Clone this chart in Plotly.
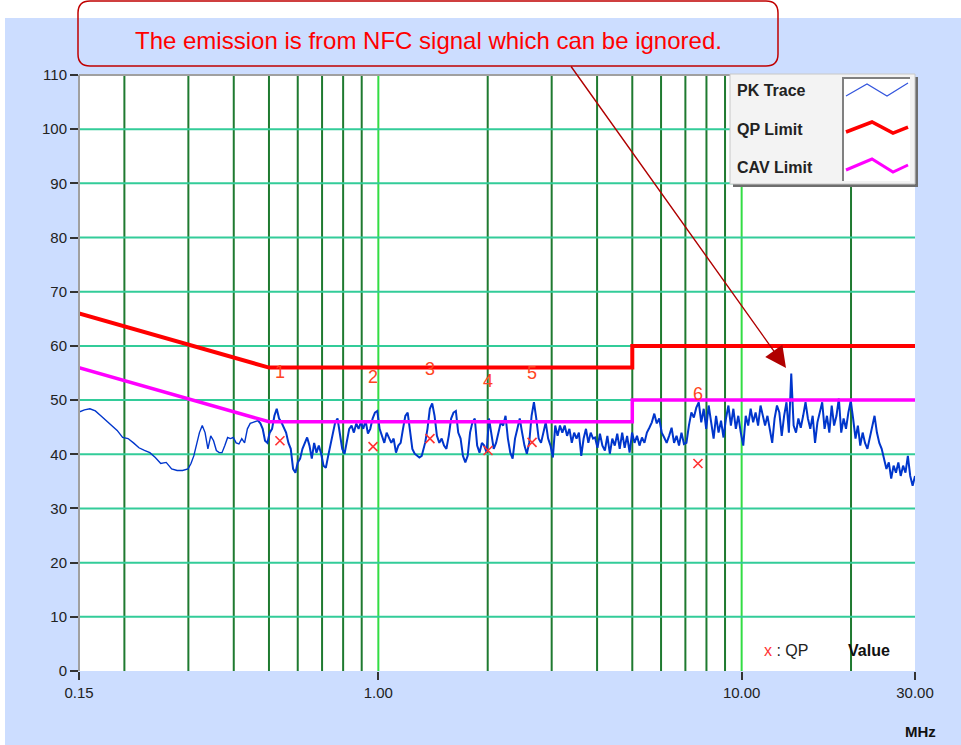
import numpy as np
import plotly.graph_objects as go

# ---------------- data ----------------
# PK trace readings (dBuV), grouped by sweep segment (start MHz, stop MHz, levels)
pk_seg_a = [47.8, 48.2, 48.4, 48.0, 47.1, 46.2, 45.3, 44.4, 43.1, 42.9, 42.1, 41.2, 40.7,
            40.3, 39.4, 38.3, 38.5, 37.3, 37.0, 37.0, 37.3]
pk_seg_b = [38.3, 39.7, 41.6, 44.0, 45.3, 44.0, 41.0, 43.4, 42.5, 40.7, 40.3, 40.3, 41.6,
            43.1, 42.9, 43.1, 42.1, 41.9, 42.9, 42.1, 44.7, 45.7, 45.9]
pk_seg_c = [46.2, 45.7, 44.7, 42.5, 42.1, 44.0, 44.7, 47.1, 48.4, 46.6, 45.9, 44.9, 44.0,
            42.1, 41.0, 37.3, 36.6, 38.5, 39.2, 41.0, 42.1, 43.1, 41.6, 39.2, 42.1, 40.3,
            41.6, 40.1, 37.9, 37.5, 39.7, 41.6, 44.0, 45.9, 46.6, 43.4, 41.0, 40.1, 42.1,
            44.7, 45.3, 44.0, 45.7, 44.7, 45.9, 44.7, 46.2, 43.8, 44.7, 46.6, 47.7, 48.0,
            44.7, 43.4, 42.1, 44.0, 42.9, 42.1, 42.9, 40.3, 41.6, 42.1, 44.7, 47.1, 47.7,
            44.0, 41.0, 40.1, 39.7, 39.4, 39.7, 41.2]
pk_seg_d = [42.1, 44.7, 48.4, 49.4, 47.1, 43.4, 42.1, 42.9, 41.6, 41.0, 43.4, 46.6, 47.7,
            48.0, 44.0, 42.9, 39.7, 38.5, 39.7, 44.0, 45.9, 46.6, 41.6, 40.3, 42.1, 41.6,
            40.3, 46.6, 44.0, 41.0, 42.1, 44.0, 45.9, 45.3, 47.1, 42.9, 40.3, 39.2, 42.9,
            44.7, 46.6, 44.0, 41.6, 40.1, 42.1, 47.1, 49.6, 46.6, 42.9, 42.1, 44.0, 45.9,
            42.9, 41.6, 39.4, 45.3, 43.4, 45.3, 44.0, 45.3, 43.4, 44.7, 42.1, 44.0, 42.9,
            44.0, 39.7, 42.9, 44.7, 42.1, 44.0, 42.9]
pk_seg_e = [43.1, 41.2, 43.8, 41.6, 40.7, 43.4, 40.1, 42.9, 41.6, 43.8, 41.0, 44.0, 41.2,
            43.4, 40.3, 44.0, 42.1, 43.4, 41.6, 43.1, 42.1, 44.0, 44.9, 45.9, 47.5, 45.7,
            46.6, 44.0, 43.1, 42.1, 43.4, 44.9, 42.1, 43.4, 41.6, 44.0, 41.9, 42.1, 45.3,
            47.7, 46.8, 48.6, 49.6, 45.9, 48.4, 44.7, 49.0, 45.9, 42.9, 47.1, 44.0, 46.2,
            43.1, 46.6, 49.0, 45.3, 48.4, 44.7, 47.1, 44.0, 41.6, 47.1, 45.3, 48.4, 45.9,
            47.7, 45.3, 49.0, 46.6]
pk_seg_f = [45.3, 47.1, 44.9, 42.1, 46.6, 49.0, 47.7, 43.4, 47.1, 49.6, 44.0, 54.9, 45.3,
            44.0, 46.6, 44.9, 47.1, 49.6, 46.6, 44.7, 47.1, 42.1, 45.9, 48.0, 49.6, 44.7,
            47.1, 44.0, 49.0, 45.3, 47.1, 50.3, 44.0, 46.6, 44.7, 47.7, 49.9, 46.6, 42.9,
            45.3, 41.6, 44.0, 42.1, 41.0, 42.9, 44.7, 47.1, 44.0, 42.1, 41.0, 39.2, 37.3,
            38.5, 35.5, 37.9, 36.6, 38.5, 36.0, 37.9, 36.6, 39.7, 36.0, 34.2, 36.0]
pk_segments = [
    (0.150, 0.2993, pk_seg_a),
    (0.305, 0.452, pk_seg_b),
    (0.4665, 1.336, pk_seg_c),
    (1.345, 3.90, pk_seg_d),
    (3.948, 11.45, pk_seg_e),
    (11.60, 30.0, pk_seg_f),
]

# limit lines
limit_freq = [0.15, 0.5, 5.0, 5.0, 30.0]
qp_limit = [66, 56, 56, 60, 60]
cav_limit = [56, 46, 46, 50, 50]

# QP measured points
qp_freq = [0.536, 0.967, 1.387, 2.004, 2.649, 7.58]
qp_value = [42.5, 41.4, 42.9, 40.7, 42.2, 38.3]
qp_labels = ["1", "2", "3", "4", "5", "6"]

# axis ticks / grid
x_tickvals = [0.15, 1.0, 10.0, 30.0]
x_ticktext = ["0.15", "1.00", "10.00", "30.00"]
grid_minor = [0.2, 0.3, 0.4, 0.5, 0.6, 0.7, 0.8, 0.9, 2, 3, 4, 5, 6, 7, 8, 9, 20]
grid_major = [1, 10]
grid_h = [10, 20, 30, 40, 50, 60, 70, 80, 90, 100]
y_min, y_max = 0, 110

# ---------------- build ----------------
pk_freq = np.concatenate([np.geomspace(a, b, len(v)) for a, b, v in pk_segments])
pk_level = np.concatenate([np.array(v, dtype=float) for _, _, v in pk_segments])
n_smooth = len(pk_seg_a) + len(pk_seg_b)  # smooth low-frequency part drawn thinner

FONT = "Arial, Liberation Sans, sans-serif"
L, R, T, B = 79, 46, 75, 74
W, H = 961, 745
PW, PH = W - L - R, H - T - B


def px(x):
    return (x - L) / PW


def py(y):
    return (H - B - y) / PH


def P(x, y):
    return f"{px(x):.5f},{py(y):.5f}"


def vlines(freqs):
    xs, ys = [], []
    for f in freqs:
        xs += [f, f, None]
        ys += [y_min, y_max, None]
    return xs, ys


def hlines(levels):
    xs, ys = [], []
    for v in levels:
        xs += [x_tickvals[0], x_tickvals[-1], None]
        ys += [v, v, None]
    return xs, ys


fig = go.Figure()

gx, gy = vlines(grid_minor)
fig.add_trace(go.Scatter(x=gx, y=gy, mode="lines", line=dict(color="#1F7A30", width=2),
                         hoverinfo="skip", showlegend=False))
gx, gy = vlines(grid_major)
fig.add_trace(go.Scatter(x=gx, y=gy, mode="lines", line=dict(color="#33DD44", width=2),
                         hoverinfo="skip", showlegend=False))
gx, gy = hlines(grid_h)
fig.add_trace(go.Scatter(x=gx, y=gy, mode="lines", line=dict(color="#33CC99", width=2),
                         hoverinfo="skip", showlegend=False))

fig.add_trace(go.Scatter(x=pk_freq[:n_smooth + 1], y=pk_level[:n_smooth + 1], mode="lines",
                         name="PK Trace", legendgroup="pk",
                         line=dict(color="#0036CC", width=1.4)))
fig.add_trace(go.Scatter(x=pk_freq[n_smooth:], y=pk_level[n_smooth:], mode="lines",
                         name="PK Trace", legendgroup="pk", showlegend=False,
                         line=dict(color="#0036CC", width=2)))
fig.add_trace(go.Scatter(x=limit_freq, y=qp_limit, mode="lines", name="QP Limit",
                         line=dict(color="#FF0000", width=4)))
fig.add_trace(go.Scatter(x=limit_freq, y=cav_limit, mode="lines", name="CAV Limit",
                         line=dict(color="#FF00FF", width=3.5)))
fig.add_trace(go.Scatter(x=qp_freq, y=qp_value, mode="markers", name="QP",
                         marker=dict(symbol="x-thin", size=9,
                                     line=dict(color="#FF3333", width=1.6))))
fig.add_trace(go.Scatter(x=qp_freq, y=[v + 12.5 for v in qp_value], mode="text",
                         text=qp_labels, textposition="middle center",
                         textfont=dict(family=FONT, size=18, color="#FF4422"),
                         hoverinfo="skip", showlegend=False))

shapes = []
# white strips outside the light-blue panel
shapes.append(dict(type="rect", xref="paper", yref="paper", x0=px(0), x1=px(W), y0=py(18), y1=py(0),
                   fillcolor="white", line=dict(width=0), layer="below"))
shapes.append(dict(type="rect", xref="paper", yref="paper", x0=px(0), x1=px(5), y0=py(H), y1=py(0),
                   fillcolor="white", line=dict(width=0), layer="below"))
# frame lines (left and top)
shapes.append(dict(type="line", xref="paper", yref="paper", x0=0, x1=0, y0=0, y1=1,
                   line=dict(color="#A0A0A0", width=2)))
shapes.append(dict(type="line", xref="paper", yref="paper", x0=0, x1=1, y0=1, y1=1,
                   line=dict(color="#A0A0A0", width=2)))

# rounded annotation box
bx0, bx1, by0, by1, r = 78, 778, 1, 66, 12
path = (f"M {P(bx0 + r, by0)} L {P(bx1 - r, by0)} Q {P(bx1, by0)} {P(bx1, by0 + r)} "
        f"L {P(bx1, by1 - r)} Q {P(bx1, by1)} {P(bx1 - r, by1)} "
        f"L {P(bx0 + r, by1)} Q {P(bx0, by1)} {P(bx0, by1 - r)} "
        f"L {P(bx0, by0 + r)} Q {P(bx0, by0)} {P(bx0 + r, by0)} Z")
shapes.append(dict(type="path", xref="paper", yref="paper", path=path,
                   line=dict(color="#C00000", width=1.5), fillcolor="rgba(0,0,0,0)"))

# custom legend
shapes.append(dict(type="rect", xref="paper", yref="paper", x0=px(733), x1=px(918), y0=py(187), y1=py(77),
                   fillcolor="#6E6E6E", line=dict(width=0)))
shapes.append(dict(type="rect", xref="paper", yref="paper", x0=px(730), x1=px(915), y0=py(184), y1=py(74),
                   fillcolor="#F3F3F3", line=dict(color="#C8C8C8", width=1)))
shapes.append(dict(type="rect", xref="paper", yref="paper", x0=px(842), x1=px(910), y0=py(181), y1=py(77),
                   fillcolor="white", line=dict(width=0)))
shapes.append(dict(type="path", xref="paper", yref="paper",
                   path=f"M {P(843, 181)} L {P(843, 78)} L {P(910, 78)}",
                   line=dict(color="#808080", width=2)))
zig = [
    ("#3355DD", 1.2, [(846, 96), (867, 84), (887, 96), (908, 83)]),
    ("#FF0000", 3.5, [(846, 132), (872, 122), (893, 133), (908, 127)]),
    ("#FF00FF", 3.0, [(846, 170), (872, 159), (893, 172), (908, 165)]),
]
for col, wd, pts in zig:
    pth = "M " + " L ".join(P(x, y) for x, y in pts)
    shapes.append(dict(type="path", xref="paper", yref="paper", path=pth,
                       line=dict(color=col, width=wd)))

annotations = [
    dict(xref="paper", yref="paper", x=px(428), y=py(40), showarrow=False,
         text="The emission is from NFC signal which can be ignored.",
         font=dict(family=FONT, size=24, color="#FF0000"), xanchor="center", yanchor="middle"),
    dict(xref="paper", yref="paper", x=px(786), y=py(368), ax=-216, ay=-303, text="",
         showarrow=True, arrowhead=2, arrowsize=3, arrowwidth=1.4, arrowcolor="#B00000",
         standoff=0),
    dict(xref="paper", yref="paper", x=px(735), y=py(91), text="<b>PK Trace</b>", showarrow=False,
         xanchor="left", yanchor="middle", font=dict(family=FONT, size=16, color="#222222")),
    dict(xref="paper", yref="paper", x=px(735), y=py(129), text="<b>QP Limit</b>", showarrow=False,
         xanchor="left", yanchor="middle", font=dict(family=FONT, size=16, color="#222222")),
    dict(xref="paper", yref="paper", x=px(735), y=py(167), text="<b>CAV Limit</b>", showarrow=False,
         xanchor="left", yanchor="middle", font=dict(family=FONT, size=16, color="#222222")),
    dict(xref="paper", yref="paper", x=px(762), y=py(650),
         text='<span style="color:#FF3333">x</span> : QP', showarrow=False,
         xanchor="left", yanchor="middle", font=dict(family=FONT, size=16, color="#222222")),
    dict(xref="paper", yref="paper", x=px(846), y=py(650), text="<b>Value</b>", showarrow=False,
         xanchor="left", yanchor="middle", font=dict(family=FONT, size=16, color="#111111")),
    dict(xref="paper", yref="paper", x=px(920), y=py(731), text="<b>MHz</b>", showarrow=False,
         xanchor="center", yanchor="middle", font=dict(family=FONT, size=15, color="#111111")),
]

fig.update_layout(
    width=W, height=H,
    margin=dict(l=L, r=R, t=T, b=B, pad=0),
    paper_bgcolor="#CCDDFF",
    plot_bgcolor="white",
    showlegend=False,
    font=dict(family=FONT, size=15, color="#222222"),
    shapes=shapes,
    annotations=annotations,
    xaxis=dict(type="log", range=[np.log10(x_tickvals[0]), np.log10(x_tickvals[-1])],
               tickmode="array", tickvals=x_tickvals, ticktext=x_ticktext,
               ticks="outside", ticklen=8, tickwidth=2, tickcolor="#333333",
               showgrid=False, zeroline=False, showline=False,
               tickfont=dict(family=FONT, size=15, color="#222222")),
    yaxis=dict(range=[y_min, y_max], tickmode="linear", tick0=0, dtick=10,
               ticks="outside", ticklen=8, tickwidth=2, tickcolor="#333333",
               showgrid=False, zeroline=False, showline=False,
               tickfont=dict(family=FONT, size=15, color="#222222")),
)

fig.write_html("out.html", config={"displayModeBar": False},
               post_script="document.body.style.margin='0';document.body.style.overflow='hidden';")
